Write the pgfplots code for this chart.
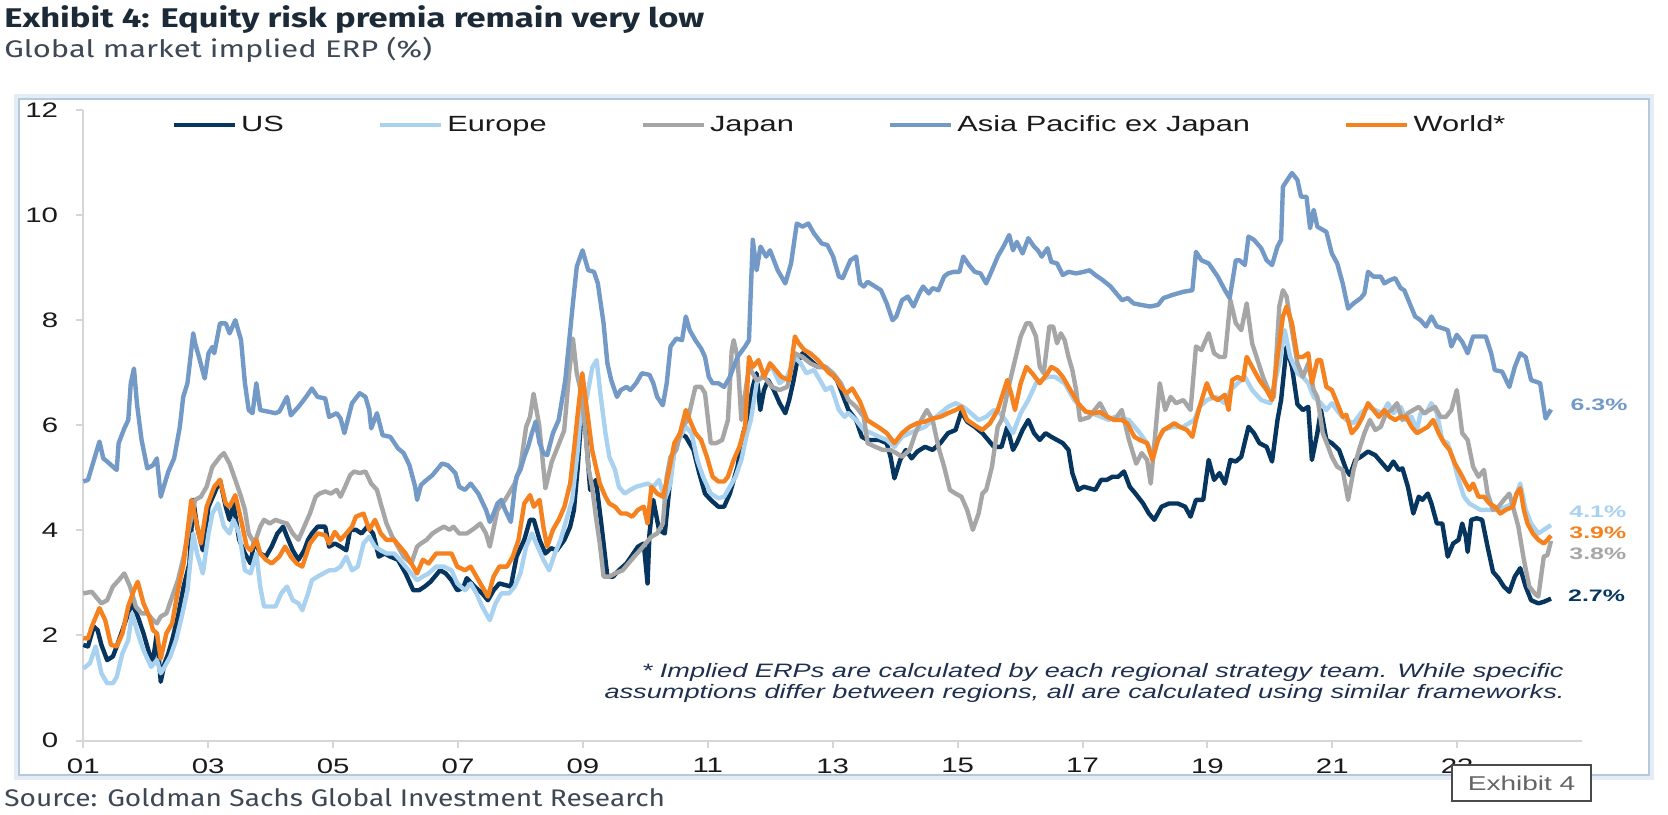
\documentclass[border=0pt]{standalone}
\usepackage{pgfplots}
\pgfplotsset{compat=1.18}
\usepackage{fontspec}
\setmainfont{Liberation Sans}[FakeStretch=1.4]
\newfontfamily\labelfont{Liberation Sans}[FakeStretch=1.5]
\newfontfamily\headfont{Fira Sans}[FakeStretch=1.28]
\newfontfamily\subfont{Fira Sans}[FakeStretch=1.29]
\newfontfamily\srcfont{Fira Sans}[FakeStretch=1.17]

\definecolor{usnavy}{HTML}{06365F}
\definecolor{eulight}{HTML}{A9D2F1}
\definecolor{jpgray}{HTML}{A6A6A6}
\definecolor{apblue}{HTML}{7399C6}
\definecolor{worldorg}{HTML}{F5821F}
\definecolor{axisgray}{HTML}{D6D6D6}
\definecolor{ink}{HTML}{1A1A1A}
\definecolor{titleink}{HTML}{1C2A38}
\definecolor{subink}{HTML}{3D4854}
\definecolor{noteink}{HTML}{1F2F4F}
\definecolor{frameblue}{HTML}{B4C8DE}
\definecolor{exgray}{HTML}{4A4A4A}

\tikzset{endlabel/.style={anchor=west, inner sep=0pt, font=\labelfont\bfseries\fontsize{8.3}{10}\selectfont}}

\begin{document}
\begin{tikzpicture}
\begin{scope}[x=0.5pt,y=-0.5pt]
\useasboundingbox (0,0) rectangle (1668,814);
\fill[white] (0,0) rectangle (1668,814);
% panel frame with a soft edge
\draw[frameblue!35, line width=3pt] (17,97) rectangle (1651,777);
\draw[frameblue, line width=1.2pt] (19,99) rectangle (1649,775);
% headings
\node[anchor=base west, inner sep=0, text=titleink, font=\headfont\bfseries\fontsize{13.5}{16}\selectfont] at (4,27) {Exhibit 4: Equity risk premia remain very low};
\node[anchor=base west, inner sep=0, text=subink, font=\subfont\fontsize{12}{14}\selectfont] at (4,57) {Global market implied ERP (\%)};
\node[anchor=base west, inner sep=0, text=subink, font=\srcfont\fontsize{12}{14}\selectfont] at (4,806) {Source: Goldman Sachs Global Investment Research};
% footnote
\node[anchor=base east, inner sep=0, text=noteink, font=\itshape\fontsize{9.7}{11}\selectfont] at (1564,677) {* Implied ERPs are calculated by each regional strategy team. While specific};
\node[anchor=base east, inner sep=0, text=noteink, font=\itshape\fontsize{9.7}{11}\selectfont] at (1565,698) {assumptions differ between regions, all are calculated using similar frameworks.};
\end{scope}

\begin{axis}[
  at={(41.65pt,-370.25pt)}, anchor=south west,
  scale only axis, width=749.4pt, height=315.25pt,
  xmin=2001, xmax=2025, ymin=0, ymax=12,
  axis lines=left, axis line style={-, axisgray, line width=1pt},
  tick align=outside, major tick length=3.5pt,
  tick style={axisgray, line width=1pt},
  xtick={2001,2003,...,2023},
  xticklabels={01,03,05,07,09,11,13,15,17,19,21,23},
  ytick={0,2,...,12},
  yticklabels={0,2,4,6,8,10,12},
  /pgf/number format/assume math mode=true,
  ticklabel style={font=\fontsize{10.5}{12}\selectfont, text=ink},
  xticklabel style={anchor=north, inner sep=0pt, yshift=-5.25pt},
  yticklabel style={anchor=east, inner sep=0pt, xshift=-8.9pt},
  clip=false,
  legend columns=5,
  legend cell align=left,
  legend style={at={(0.0590,0.9762)}, anchor=west, draw=none, fill=none,
    inner sep=0pt, outer sep=0pt,
    font=\fontsize{11}{13}\selectfont, text=ink,
    nodes={inner sep=0pt},
    /tikz/every odd column/.append style={column sep=2pt},
    /tikz/every even column/.append style={column sep=47pt}},
  legend image code/.code={\draw[#1] (0pt,0pt) -- (30.5pt,0pt);},
  every axis plot/.append style={line width=2.2pt, line join=round},
]
% US
\addplot[usnavy] coordinates {(2001.0,1.82)(2001.075,1.79)(2001.167,2.17)(2001.229,2.10)(2001.29,1.82)(2001.382,1.53)(2001.474,1.60)(2001.535,1.79)(2001.627,2.10)(2001.719,2.42)(2001.78,2.61)(2001.872,2.36)(2001.964,2.04)(2002.056,1.66)(2002.117,1.53)(2002.178,2.04)(2002.24,1.12)(2002.301,1.47)(2002.362,1.66)(2002.423,1.91)(2002.515,2.36)(2002.607,2.93)(2002.699,3.37)(2002.76,4.58)(2002.822,4.07)(2002.914,3.62)(2003.005,4.45)(2003.097,4.70)(2003.189,4.96)(2003.281,4.45)(2003.342,4.20)(2003.404,4.51)(2003.496,3.82)(2003.588,3.56)(2003.679,3.37)(2003.741,3.82)(2003.833,3.56)(2003.925,3.50)(2004.016,3.69)(2004.108,3.94)(2004.2,4.07)(2004.262,3.88)(2004.354,3.62)(2004.445,3.44)(2004.537,3.62)(2004.599,3.82)(2004.66,3.94)(2004.752,4.07)(2004.874,4.07)(2004.936,3.69)(2005.028,3.75)(2005.119,3.69)(2005.211,3.62)(2005.273,4.01)(2005.365,4.01)(2005.456,3.94)(2005.548,4.07)(2005.64,3.94)(2005.732,3.50)(2005.824,3.56)(2005.916,3.50)(2006.039,3.44)(2006.161,3.18)(2006.284,2.86)(2006.376,2.86)(2006.467,2.93)(2006.559,3.02)(2006.713,3.24)(2006.804,3.18)(2006.896,3.05)(2006.988,2.86)(2007.08,2.90)(2007.141,3.09)(2007.264,2.93)(2007.387,2.80)(2007.479,2.67)(2007.57,2.86)(2007.662,2.99)(2007.754,2.96)(2007.846,2.93)(2007.938,3.50)(2008.061,3.82)(2008.153,4.20)(2008.214,4.20)(2008.306,3.82)(2008.398,3.56)(2008.49,3.66)(2008.581,3.62)(2008.704,3.82)(2008.796,4.07)(2008.857,4.39)(2008.918,5.21)(2009.0,6.6)(2009.055,5.72)(2009.116,4.77)(2009.208,4.96)(2009.3,4.07)(2009.392,3.12)(2009.484,3.12)(2009.576,3.24)(2009.698,3.37)(2009.79,3.53)(2009.882,3.69)(2009.974,3.75)(2010.035,2.99)(2010.066,3.94)(2010.127,4.58)(2010.219,4.01)(2010.311,3.94)(2010.403,5.02)(2010.464,5.53)(2010.556,5.85)(2010.648,5.78)(2010.771,5.53)(2010.863,5.09)(2010.955,4.70)(2011.047,4.58)(2011.169,4.45)(2011.261,4.45)(2011.353,4.70)(2011.475,5.21)(2011.567,5.85)(2011.629,6.10)(2011.72,6.73)(2011.78,6.99)(2011.84,6.29)(2011.9,6.67)(2011.965,6.86)(2012.057,6.67)(2012.15,6.42)(2012.241,6.23)(2012.303,6.48)(2012.364,6.80)(2012.425,7.18)(2012.517,7.37)(2012.64,7.24)(2012.762,7.11)(2012.885,7.11)(2012.977,6.99)(2013.069,6.86)(2013.13,6.67)(2013.252,6.29)(2013.375,6.10)(2013.467,5.78)(2013.559,5.72)(2013.743,5.72)(2013.865,5.66)(2013.926,5.40)(2013.988,4.99)(2014.08,5.34)(2014.171,5.53)(2014.263,5.37)(2014.355,5.50)(2014.478,5.59)(2014.6,5.53)(2014.723,5.66)(2014.846,5.85)(2014.968,5.91)(2015.06,6.26)(2015.152,6.07)(2015.274,5.97)(2015.397,5.85)(2015.489,5.72)(2015.581,5.59)(2015.703,5.59)(2015.795,5.97)(2015.887,5.53)(2015.948,5.66)(2016.04,5.91)(2016.132,6.10)(2016.224,5.85)(2016.316,5.72)(2016.408,5.85)(2016.5,5.78)(2016.592,5.72)(2016.684,5.66)(2016.776,5.53)(2016.837,5.09)(2016.929,4.77)(2017.021,4.83)(2017.113,4.80)(2017.205,4.77)(2017.297,4.96)(2017.388,4.96)(2017.48,5.02)(2017.572,5.02)(2017.664,5.12)(2017.756,4.83)(2017.848,4.70)(2017.971,4.51)(2018.063,4.32)(2018.15,4.20)(2018.266,4.45)(2018.382,4.51)(2018.527,4.51)(2018.643,4.45)(2018.73,4.26)(2018.817,4.58)(2018.933,4.58)(2019.02,5.34)(2019.107,4.96)(2019.194,5.09)(2019.281,4.89)(2019.368,5.34)(2019.455,5.31)(2019.542,5.40)(2019.658,5.97)(2019.745,5.85)(2019.832,5.66)(2019.948,5.59)(2020.035,5.31)(2020.122,6.10)(2020.18,6.48)(2020.267,7.49)(2020.354,7.11)(2020.441,6.40)(2020.528,6.29)(2020.615,6.35)(2020.673,5.34)(2020.76,5.85)(2020.818,6.29)(2020.905,5.72)(2020.992,5.66)(2021.108,5.53)(2021.224,5.15)(2021.282,5.05)(2021.369,5.34)(2021.456,5.40)(2021.572,5.50)(2021.688,5.43)(2021.804,5.27)(2021.891,5.15)(2021.978,5.31)(2022.065,5.15)(2022.123,5.18)(2022.21,4.83)(2022.297,4.32)(2022.384,4.64)(2022.442,4.58)(2022.529,4.70)(2022.587,4.51)(2022.674,4.13)(2022.761,4.13)(2022.848,3.50)(2022.935,3.75)(2023.022,3.82)(2023.08,4.13)(2023.138,3.88)(2023.167,3.59)(2023.225,4.20)(2023.312,4.23)(2023.399,4.20)(2023.486,3.69)(2023.573,3.21)(2023.661,3.09)(2023.747,2.93)(2023.835,2.83)(2023.922,3.12)(2024.009,3.28)(2024.096,2.93)(2024.183,2.67)(2024.299,2.61)(2024.386,2.64)(2024.502,2.70)};
\addlegendentry{US}
% Europe
\addplot[eulight] coordinates {(2001.0,1.37)(2001.106,1.47)(2001.198,1.79)(2001.29,1.28)(2001.382,1.09)(2001.474,1.09)(2001.535,1.21)(2001.627,1.66)(2001.719,1.91)(2001.78,2.42)(2001.872,2.04)(2001.964,1.72)(2002.086,1.40)(2002.178,1.53)(2002.24,1.28)(2002.301,1.40)(2002.393,1.60)(2002.485,1.91)(2002.577,2.36)(2002.668,2.86)(2002.76,3.94)(2002.822,3.56)(2002.914,3.18)(2003.005,3.94)(2003.067,4.32)(2003.159,4.51)(2003.251,4.07)(2003.342,3.94)(2003.404,4.20)(2003.496,3.94)(2003.588,3.24)(2003.679,3.18)(2003.771,3.56)(2003.833,2.93)(2003.894,2.55)(2003.986,2.55)(2004.078,2.55)(2004.17,2.80)(2004.262,2.93)(2004.354,2.67)(2004.445,2.61)(2004.507,2.48)(2004.599,2.80)(2004.66,3.05)(2004.752,3.12)(2004.844,3.18)(2004.936,3.24)(2005.028,3.24)(2005.119,3.31)(2005.211,3.50)(2005.303,3.24)(2005.395,3.31)(2005.487,3.75)(2005.579,3.88)(2005.671,3.69)(2005.763,3.62)(2005.855,3.56)(2005.977,3.56)(2006.069,3.44)(2006.161,3.31)(2006.253,3.18)(2006.345,3.05)(2006.437,3.12)(2006.529,3.18)(2006.651,3.31)(2006.774,3.31)(2006.896,3.24)(2006.988,2.99)(2007.111,2.86)(2007.203,2.99)(2007.295,2.80)(2007.387,2.55)(2007.509,2.29)(2007.601,2.61)(2007.693,2.80)(2007.816,2.80)(2007.907,2.93)(2007.999,3.18)(2008.091,3.69)(2008.183,3.94)(2008.275,3.69)(2008.367,3.44)(2008.459,3.24)(2008.551,3.56)(2008.643,3.82)(2008.735,4.20)(2008.827,4.58)(2008.918,5.53)(2008.99,6.70)(2009.06,6.50)(2009.15,7.10)(2009.22,7.24)(2009.28,6.60)(2009.361,5.85)(2009.423,5.40)(2009.515,5.15)(2009.576,4.83)(2009.668,4.70)(2009.76,4.77)(2009.852,4.83)(2009.944,4.86)(2010.035,4.89)(2010.127,4.83)(2010.219,4.96)(2010.311,4.58)(2010.403,4.89)(2010.464,5.53)(2010.556,5.78)(2010.648,5.97)(2010.74,5.85)(2010.832,5.34)(2010.924,5.02)(2011.047,4.70)(2011.169,4.61)(2011.261,4.64)(2011.353,4.83)(2011.445,5.02)(2011.537,5.34)(2011.629,5.85)(2011.69,6.10)(2011.782,6.80)(2011.904,6.99)(2012.027,7.11)(2012.15,6.80)(2012.272,6.92)(2012.395,7.30)(2012.487,7.18)(2012.578,6.99)(2012.701,7.05)(2012.824,6.80)(2012.885,6.67)(2012.977,6.73)(2013.099,6.29)(2013.191,6.16)(2013.252,6.23)(2013.375,6.10)(2013.497,5.91)(2013.62,5.85)(2013.743,5.78)(2013.865,5.72)(2013.988,5.59)(2014.11,5.78)(2014.233,5.85)(2014.355,5.91)(2014.478,5.97)(2014.6,6.10)(2014.723,6.23)(2014.846,6.35)(2014.968,6.42)(2015.091,6.35)(2015.213,6.23)(2015.336,6.10)(2015.458,6.16)(2015.581,6.29)(2015.673,6.23)(2015.765,6.10)(2015.887,5.85)(2016.01,6.23)(2016.132,6.48)(2016.255,6.80)(2016.439,6.92)(2016.561,6.92)(2016.714,6.80)(2016.867,6.48)(2017.051,6.26)(2017.236,6.19)(2017.42,6.10)(2017.512,6.16)(2017.744,6.10)(2017.918,5.85)(2018.034,5.66)(2018.121,5.47)(2018.208,5.72)(2018.295,5.91)(2018.44,5.97)(2018.614,5.97)(2018.788,6.10)(2018.875,6.35)(2018.991,6.48)(2019.136,6.54)(2019.281,6.42)(2019.368,6.67)(2019.484,6.80)(2019.6,6.92)(2019.716,6.67)(2019.861,6.48)(2020.006,6.42)(2020.151,7.18)(2020.238,7.81)(2020.325,7.30)(2020.441,6.99)(2020.528,6.92)(2020.615,6.80)(2020.702,6.54)(2020.818,6.42)(2020.905,6.29)(2020.992,6.42)(2021.108,6.23)(2021.224,6.10)(2021.34,6.04)(2021.456,6.23)(2021.572,6.35)(2021.688,6.29)(2021.804,6.23)(2021.891,6.42)(2021.978,6.23)(2022.094,6.35)(2022.181,6.10)(2022.268,6.16)(2022.355,5.91)(2022.413,6.23)(2022.5,6.23)(2022.587,6.42)(2022.674,6.23)(2022.761,5.72)(2022.848,5.66)(2022.935,5.34)(2023.022,4.96)(2023.109,4.64)(2023.196,4.51)(2023.283,4.45)(2023.37,4.39)(2023.457,4.39)(2023.573,4.39)(2023.661,4.39)(2023.777,4.45)(2023.893,4.51)(2024.009,4.89)(2024.096,4.39)(2024.183,4.13)(2024.299,3.94)(2024.386,4.01)(2024.502,4.10)};
\addlegendentry{Europe}
% Japan
\addplot[jpgray] coordinates {(2001.0,2.80)(2001.137,2.83)(2001.198,2.74)(2001.29,2.61)(2001.382,2.67)(2001.474,2.93)(2001.566,3.05)(2001.657,3.18)(2001.749,2.93)(2001.841,2.55)(2001.933,2.42)(2002.025,2.42)(2002.117,2.29)(2002.178,2.23)(2002.24,2.36)(2002.331,2.42)(2002.423,2.74)(2002.515,3.05)(2002.607,3.50)(2002.699,4.07)(2002.791,4.58)(2002.883,4.64)(2002.975,4.83)(2003.067,5.21)(2003.189,5.40)(2003.251,5.47)(2003.342,5.27)(2003.434,4.96)(2003.526,4.64)(2003.588,4.39)(2003.649,3.94)(2003.741,3.75)(2003.833,4.07)(2003.894,4.20)(2003.986,4.13)(2004.078,4.20)(2004.17,4.16)(2004.262,4.13)(2004.354,3.94)(2004.445,3.82)(2004.537,4.07)(2004.629,4.32)(2004.721,4.64)(2004.782,4.70)(2004.874,4.74)(2004.966,4.70)(2005.058,4.77)(2005.119,4.64)(2005.181,4.80)(2005.273,5.05)(2005.334,5.12)(2005.426,5.09)(2005.518,5.12)(2005.61,4.89)(2005.702,4.77)(2005.763,4.51)(2005.855,4.13)(2005.947,3.88)(2006.039,3.69)(2006.13,3.50)(2006.253,3.37)(2006.345,3.69)(2006.406,3.75)(2006.498,3.82)(2006.59,3.94)(2006.682,4.01)(2006.774,4.07)(2006.866,4.01)(2006.927,4.07)(2007.019,3.94)(2007.141,3.94)(2007.264,4.04)(2007.356,4.13)(2007.448,3.94)(2007.509,3.69)(2007.632,4.39)(2007.754,4.58)(2007.907,4.89)(2007.999,5.21)(2008.091,5.97)(2008.153,6.16)(2008.21,6.60)(2008.30,6.00)(2008.40,4.80)(2008.50,5.30)(2008.60,5.60)(2008.70,5.90)(2008.78,7.00)(2008.84,7.65)(2008.90,7.00)(2008.963,6.67)(2009.02,6.10)(2009.055,5.66)(2009.086,5.21)(2009.147,4.83)(2009.208,4.26)(2009.27,3.75)(2009.331,3.12)(2009.423,3.12)(2009.515,3.18)(2009.637,3.24)(2009.729,3.37)(2009.821,3.50)(2009.913,3.62)(2010.005,3.75)(2010.097,3.88)(2010.189,3.94)(2010.28,4.13)(2010.342,5.02)(2010.403,5.40)(2010.495,5.53)(2010.587,5.97)(2010.679,6.10)(2010.801,6.73)(2010.893,6.73)(2010.955,6.61)(2011.047,5.66)(2011.138,5.66)(2011.23,5.72)(2011.322,6.10)(2011.383,7.43)(2011.414,7.62)(2011.475,7.30)(2011.537,6.10)(2011.659,7.11)(2011.782,6.86)(2011.904,6.92)(2012.027,6.73)(2012.15,6.67)(2012.272,6.73)(2012.395,7.37)(2012.517,7.30)(2012.64,7.18)(2012.762,7.11)(2012.885,7.11)(2013.007,6.99)(2013.13,6.80)(2013.252,6.48)(2013.375,6.35)(2013.497,6.16)(2013.559,5.66)(2013.681,5.59)(2013.804,5.53)(2013.926,5.53)(2014.018,5.47)(2014.11,5.40)(2014.233,5.53)(2014.325,5.85)(2014.417,6.10)(2014.508,6.29)(2014.6,6.10)(2014.692,5.59)(2014.784,5.21)(2014.876,4.77)(2014.968,4.70)(2015.06,4.64)(2015.152,4.39)(2015.244,4.01)(2015.336,4.32)(2015.397,4.70)(2015.458,4.77)(2015.55,5.21)(2015.642,5.97)(2015.703,6.10)(2015.85,6.90)(2016.01,7.69)(2016.102,7.94)(2016.163,7.94)(2016.255,7.69)(2016.316,7.11)(2016.378,6.99)(2016.469,7.88)(2016.53,7.88)(2016.592,7.56)(2016.653,7.75)(2016.714,7.62)(2016.776,7.30)(2016.837,7.05)(2016.898,6.67)(2016.96,6.10)(2017.1,6.15)(2017.28,6.42)(2017.396,6.16)(2017.512,6.10)(2017.628,6.29)(2017.744,5.72)(2017.86,5.27)(2017.947,5.47)(2018.034,5.34)(2018.092,4.89)(2018.17,5.90)(2018.237,6.80)(2018.324,6.29)(2018.411,6.54)(2018.498,6.42)(2018.614,6.48)(2018.73,6.29)(2018.817,7.50)(2018.904,7.43)(2019.02,7.75)(2019.107,7.37)(2019.194,7.30)(2019.281,7.30)(2019.368,8.38)(2019.455,7.94)(2019.542,7.81)(2019.629,8.32)(2019.716,7.56)(2019.803,7.24)(2019.89,6.92)(2019.977,6.67)(2020.064,6.54)(2020.151,8.26)(2020.209,8.57)(2020.267,8.45)(2020.354,7.81)(2020.441,7.18)(2020.528,6.92)(2020.615,7.18)(2020.702,6.67)(2020.76,6.54)(2020.847,5.85)(2020.934,5.59)(2020.992,5.40)(2021.079,5.21)(2021.166,5.15)(2021.253,4.58)(2021.34,5.15)(2021.427,5.53)(2021.514,5.85)(2021.601,6.10)(2021.688,5.91)(2021.775,5.97)(2021.862,6.23)(2021.949,6.29)(2022.036,6.42)(2022.123,6.10)(2022.21,6.23)(2022.297,6.29)(2022.384,6.35)(2022.471,6.23)(2022.558,6.29)(2022.645,6.35)(2022.732,6.16)(2022.819,6.16)(2022.906,6.29)(2022.993,6.67)(2023.08,5.85)(2023.167,5.72)(2023.254,5.21)(2023.341,5.02)(2023.428,5.15)(2023.486,4.70)(2023.573,4.39)(2023.661,4.45)(2023.747,4.58)(2023.835,4.70)(2023.893,4.45)(2023.979,4.07)(2024.067,3.44)(2024.154,2.93)(2024.241,2.80)(2024.299,2.74)(2024.386,3.50)(2024.444,3.53)(2024.502,3.80)};
\addlegendentry{Japan}
% Asia Pacific ex Japan
\addplot[apblue] coordinates {(2001.0,4.93)(2001.075,4.96)(2001.259,5.69)(2001.32,5.37)(2001.382,5.31)(2001.504,5.18)(2001.535,5.15)(2001.566,5.66)(2001.657,5.94)(2001.72,6.10)(2001.76,6.80)(2001.811,7.08)(2001.86,6.40)(2001.933,5.72)(2002.025,5.18)(2002.117,5.24)(2002.178,5.37)(2002.24,4.64)(2002.362,5.12)(2002.454,5.37)(2002.546,5.97)(2002.6,6.54)(2002.668,6.80)(2002.76,7.75)(2002.791,7.56)(2002.852,7.30)(2002.944,6.89)(2003.005,7.37)(2003.067,7.49)(2003.097,7.37)(2003.189,7.94)(2003.281,7.94)(2003.342,7.75)(2003.434,8.00)(2003.526,7.62)(2003.588,6.80)(2003.649,6.29)(2003.71,6.23)(2003.771,6.80)(2003.833,6.29)(2003.955,6.26)(2004.078,6.23)(2004.139,6.26)(2004.262,6.54)(2004.323,6.19)(2004.445,6.35)(2004.568,6.54)(2004.66,6.70)(2004.752,6.54)(2004.874,6.51)(2004.936,6.16)(2005.058,6.23)(2005.119,6.13)(2005.181,5.85)(2005.303,6.42)(2005.426,6.61)(2005.518,6.54)(2005.579,6.29)(2005.61,5.94)(2005.702,6.23)(2005.793,5.81)(2005.916,5.78)(2006.039,5.56)(2006.13,5.47)(2006.222,5.24)(2006.314,4.83)(2006.345,4.58)(2006.406,4.86)(2006.467,4.93)(2006.59,5.05)(2006.743,5.27)(2006.835,5.24)(2006.958,5.09)(2007.019,4.83)(2007.111,4.77)(2007.203,4.89)(2007.325,4.70)(2007.448,4.39)(2007.509,4.16)(2007.57,4.32)(2007.632,4.51)(2007.693,4.58)(2007.754,4.39)(2007.846,4.16)(2007.907,4.80)(2007.938,5.02)(2007.999,5.15)(2008.061,5.40)(2008.122,5.59)(2008.183,5.85)(2008.244,6.07)(2008.306,5.66)(2008.367,5.47)(2008.428,5.43)(2008.52,5.85)(2008.612,6.10)(2008.718,6.86)(2008.84,8.32)(2008.902,9.02)(2008.994,9.33)(2009.086,8.95)(2009.178,8.92)(2009.239,8.70)(2009.331,7.94)(2009.392,7.18)(2009.453,6.86)(2009.545,6.54)(2009.607,6.67)(2009.698,6.73)(2009.76,6.67)(2009.852,6.80)(2009.944,6.99)(2010.066,6.96)(2010.127,6.80)(2010.189,6.54)(2010.28,6.38)(2010.342,6.80)(2010.403,7.50)(2010.495,7.65)(2010.587,7.62)(2010.648,8.07)(2010.71,7.81)(2010.801,7.62)(2010.893,7.46)(2010.955,7.30)(2011.016,6.92)(2011.077,6.80)(2011.169,6.80)(2011.261,6.73)(2011.353,6.92)(2011.475,7.30)(2011.598,7.50)(2011.659,7.62)(2011.72,9.53)(2011.782,8.95)(2011.843,9.40)(2011.935,9.21)(2011.996,9.33)(2012.119,8.95)(2012.241,8.70)(2012.333,9.08)(2012.425,9.84)(2012.517,9.78)(2012.609,9.84)(2012.701,9.65)(2012.824,9.46)(2012.915,9.43)(2013.007,9.21)(2013.099,8.83)(2013.16,8.80)(2013.283,9.14)(2013.375,9.21)(2013.436,8.70)(2013.497,8.64)(2013.559,8.73)(2013.681,8.64)(2013.773,8.57)(2013.865,8.32)(2013.957,8.00)(2014.018,8.07)(2014.11,8.38)(2014.202,8.45)(2014.294,8.26)(2014.386,8.51)(2014.447,8.64)(2014.539,8.51)(2014.6,8.61)(2014.692,8.57)(2014.784,8.83)(2014.846,8.89)(2014.938,8.92)(2015.029,8.92)(2015.091,9.21)(2015.183,9.05)(2015.274,8.92)(2015.366,8.89)(2015.458,8.70)(2015.55,8.95)(2015.642,9.21)(2015.734,9.40)(2015.826,9.62)(2015.887,9.33)(2015.948,9.49)(2016.04,9.27)(2016.132,9.56)(2016.224,9.40)(2016.285,9.33)(2016.347,9.21)(2016.439,9.37)(2016.5,9.11)(2016.592,9.08)(2016.684,8.86)(2016.776,8.92)(2016.898,8.89)(2017.021,8.92)(2017.113,8.95)(2017.205,8.86)(2017.327,8.76)(2017.45,8.64)(2017.541,8.51)(2017.633,8.38)(2017.725,8.42)(2017.817,8.32)(2017.94,8.29)(2018.081,8.26)(2018.208,8.29)(2018.295,8.42)(2018.44,8.48)(2018.614,8.54)(2018.759,8.57)(2018.817,9.30)(2018.904,9.14)(2019.02,9.08)(2019.165,8.83)(2019.281,8.57)(2019.357,8.42)(2019.455,9.14)(2019.513,9.14)(2019.6,9.05)(2019.658,9.59)(2019.745,9.53)(2019.861,9.37)(2019.948,9.14)(2020.035,9.05)(2020.122,9.40)(2020.18,9.53)(2020.209,10.54)(2020.296,10.70)(2020.354,10.80)(2020.441,10.67)(2020.499,10.35)(2020.586,10.35)(2020.644,9.75)(2020.702,10.10)(2020.76,9.78)(2020.847,9.72)(2020.905,9.68)(2020.992,9.27)(2021.079,9.08)(2021.166,8.70)(2021.253,8.22)(2021.34,8.32)(2021.456,8.42)(2021.514,8.51)(2021.572,8.92)(2021.659,8.83)(2021.775,8.83)(2021.833,8.70)(2021.92,8.76)(2022.007,8.80)(2022.094,8.61)(2022.152,8.57)(2022.239,8.32)(2022.326,8.07)(2022.413,8.00)(2022.5,7.88)(2022.587,8.07)(2022.674,7.88)(2022.761,7.85)(2022.848,7.81)(2022.906,7.50)(2022.993,7.72)(2023.08,7.59)(2023.167,7.37)(2023.254,7.69)(2023.37,7.69)(2023.457,7.69)(2023.544,7.37)(2023.602,7.05)(2023.719,7.02)(2023.835,6.73)(2023.922,7.11)(2024.009,7.37)(2024.096,7.30)(2024.183,6.86)(2024.328,6.80)(2024.415,6.13)(2024.502,6.30)};
\addlegendentry{Asia Pacific ex Japan}
% World
\addplot[worldorg] coordinates {(2001.0,1.95)(2001.075,1.94)(2001.137,2.17)(2001.259,2.52)(2001.351,2.29)(2001.443,1.82)(2001.535,1.79)(2001.627,2.04)(2001.719,2.55)(2001.811,2.86)(2001.872,3.02)(2001.964,2.61)(2002.056,2.36)(2002.117,2.10)(2002.178,2.04)(2002.24,1.56)(2002.331,2.04)(2002.423,2.23)(2002.515,2.86)(2002.607,3.37)(2002.73,4.58)(2002.791,4.26)(2002.883,3.75)(2002.975,4.45)(2003.097,4.83)(2003.189,4.96)(2003.281,4.51)(2003.342,4.45)(2003.434,4.67)(2003.526,4.20)(2003.618,3.69)(2003.679,3.62)(2003.771,3.82)(2003.833,3.56)(2003.925,3.44)(2004.016,3.37)(2004.139,3.50)(2004.231,3.69)(2004.323,3.50)(2004.415,3.37)(2004.507,3.31)(2004.629,3.75)(2004.752,3.94)(2004.874,3.91)(2004.936,3.75)(2005.028,3.97)(2005.119,3.82)(2005.211,3.94)(2005.303,4.07)(2005.365,4.26)(2005.487,4.32)(2005.579,4.01)(2005.671,4.20)(2005.763,3.94)(2005.855,3.82)(2005.977,3.82)(2006.069,3.69)(2006.161,3.56)(2006.253,3.37)(2006.345,3.18)(2006.437,3.44)(2006.529,3.37)(2006.651,3.56)(2006.774,3.56)(2006.896,3.56)(2006.988,3.31)(2007.111,3.24)(2007.203,3.31)(2007.295,3.12)(2007.387,2.93)(2007.479,2.74)(2007.57,3.12)(2007.662,3.31)(2007.785,3.31)(2007.877,3.50)(2007.969,3.82)(2008.061,4.51)(2008.153,4.67)(2008.214,4.45)(2008.306,4.58)(2008.367,4.07)(2008.428,3.69)(2008.52,4.01)(2008.612,4.20)(2008.704,4.45)(2008.796,4.89)(2008.857,5.53)(2008.918,6.23)(2008.99,6.99)(2009.086,6.10)(2009.147,5.53)(2009.208,5.21)(2009.27,4.89)(2009.361,4.64)(2009.423,4.51)(2009.515,4.45)(2009.607,4.32)(2009.698,4.32)(2009.79,4.26)(2009.882,4.39)(2009.974,4.45)(2010.035,4.13)(2010.097,4.83)(2010.189,4.70)(2010.28,4.64)(2010.372,5.09)(2010.464,5.66)(2010.556,5.85)(2010.648,6.29)(2010.71,6.10)(2010.801,5.85)(2010.893,5.72)(2010.985,5.40)(2011.077,5.02)(2011.169,4.93)(2011.261,4.93)(2011.322,5.02)(2011.414,5.34)(2011.506,5.59)(2011.598,5.97)(2011.659,7.30)(2011.72,7.11)(2011.812,7.24)(2011.904,6.92)(2011.996,7.18)(2012.088,7.05)(2012.18,6.92)(2012.303,6.86)(2012.395,7.69)(2012.456,7.56)(2012.548,7.43)(2012.64,7.37)(2012.762,7.24)(2012.854,7.11)(2012.946,6.99)(2013.038,6.92)(2013.13,6.73)(2013.222,6.61)(2013.313,6.70)(2013.436,6.45)(2013.55,6.10)(2013.75,5.95)(2013.865,5.85)(2013.988,5.66)(2014.11,5.85)(2014.233,5.97)(2014.355,6.04)(2014.478,6.07)(2014.6,6.13)(2014.723,6.16)(2014.846,6.23)(2014.968,6.29)(2015.06,6.35)(2015.152,6.10)(2015.274,6.00)(2015.397,5.91)(2015.52,6.04)(2015.642,6.29)(2015.795,6.86)(2015.856,6.61)(2015.918,6.29)(2016.01,6.80)(2016.102,7.11)(2016.194,6.99)(2016.316,6.80)(2016.439,6.99)(2016.5,7.11)(2016.592,7.05)(2016.684,6.92)(2016.806,6.67)(2016.929,6.42)(2017.051,6.26)(2017.174,6.23)(2017.28,6.25)(2017.396,6.16)(2017.512,6.10)(2017.628,6.10)(2017.715,6.04)(2017.831,5.78)(2017.918,5.72)(2018.034,5.66)(2018.121,5.34)(2018.208,5.72)(2018.295,5.91)(2018.382,5.97)(2018.469,6.04)(2018.556,5.97)(2018.672,5.91)(2018.759,5.78)(2018.817,6.10)(2018.875,6.35)(2018.991,6.80)(2019.078,6.54)(2019.165,6.48)(2019.281,6.58)(2019.339,6.29)(2019.397,6.86)(2019.484,6.92)(2019.571,6.86)(2019.629,7.30)(2019.716,7.11)(2019.832,6.86)(2019.948,6.67)(2020.035,6.48)(2020.122,7.30)(2020.209,8.07)(2020.267,8.26)(2020.354,7.94)(2020.441,7.30)(2020.528,7.30)(2020.615,7.37)(2020.673,6.80)(2020.76,7.24)(2020.818,7.24)(2020.905,6.73)(2020.992,6.67)(2021.079,6.42)(2021.166,6.16)(2021.224,6.20)(2021.311,5.85)(2021.398,5.97)(2021.485,6.16)(2021.572,6.42)(2021.659,6.29)(2021.746,6.16)(2021.833,6.29)(2021.92,6.16)(2022.007,6.10)(2022.094,6.16)(2022.181,6.16)(2022.268,5.97)(2022.355,5.85)(2022.442,5.91)(2022.529,5.97)(2022.616,6.10)(2022.703,5.85)(2022.79,5.66)(2022.877,5.53)(2022.964,5.27)(2023.051,5.09)(2023.138,4.89)(2023.196,4.77)(2023.254,4.89)(2023.341,4.64)(2023.428,4.64)(2023.515,4.51)(2023.602,4.45)(2023.69,4.32)(2023.777,4.39)(2023.893,4.45)(2023.951,4.70)(2024.009,4.80)(2024.067,4.39)(2024.125,4.13)(2024.212,3.94)(2024.299,3.82)(2024.386,3.75)(2024.444,3.82)(2024.502,3.90)};
\addlegendentry{World*}
% latest readings
\node[endlabel, text=apblue] at (axis cs:2024.81,6.385) {6.3\%};
\node[endlabel, text=eulight] at (axis cs:2024.79,4.35) {4.1\%};
\node[endlabel, text=worldorg] at (axis cs:2024.79,3.95) {3.9\%};
\node[endlabel, text=jpgray] at (axis cs:2024.79,3.55) {3.8\%};
\node[endlabel, text=usnavy] at (axis cs:2024.77,2.75) {2.7\%};
\end{axis}

\begin{scope}[x=0.5pt,y=-0.5pt]
\node[draw=exgray, line width=0.9pt, fill=white, minimum width=69.5pt, minimum height=18pt, inner sep=0pt, text=exgray!85, font=\fontsize{10}{12}\selectfont] at (1521.5,783) {Exhibit 4};
\end{scope}
\end{tikzpicture}
\end{document}
